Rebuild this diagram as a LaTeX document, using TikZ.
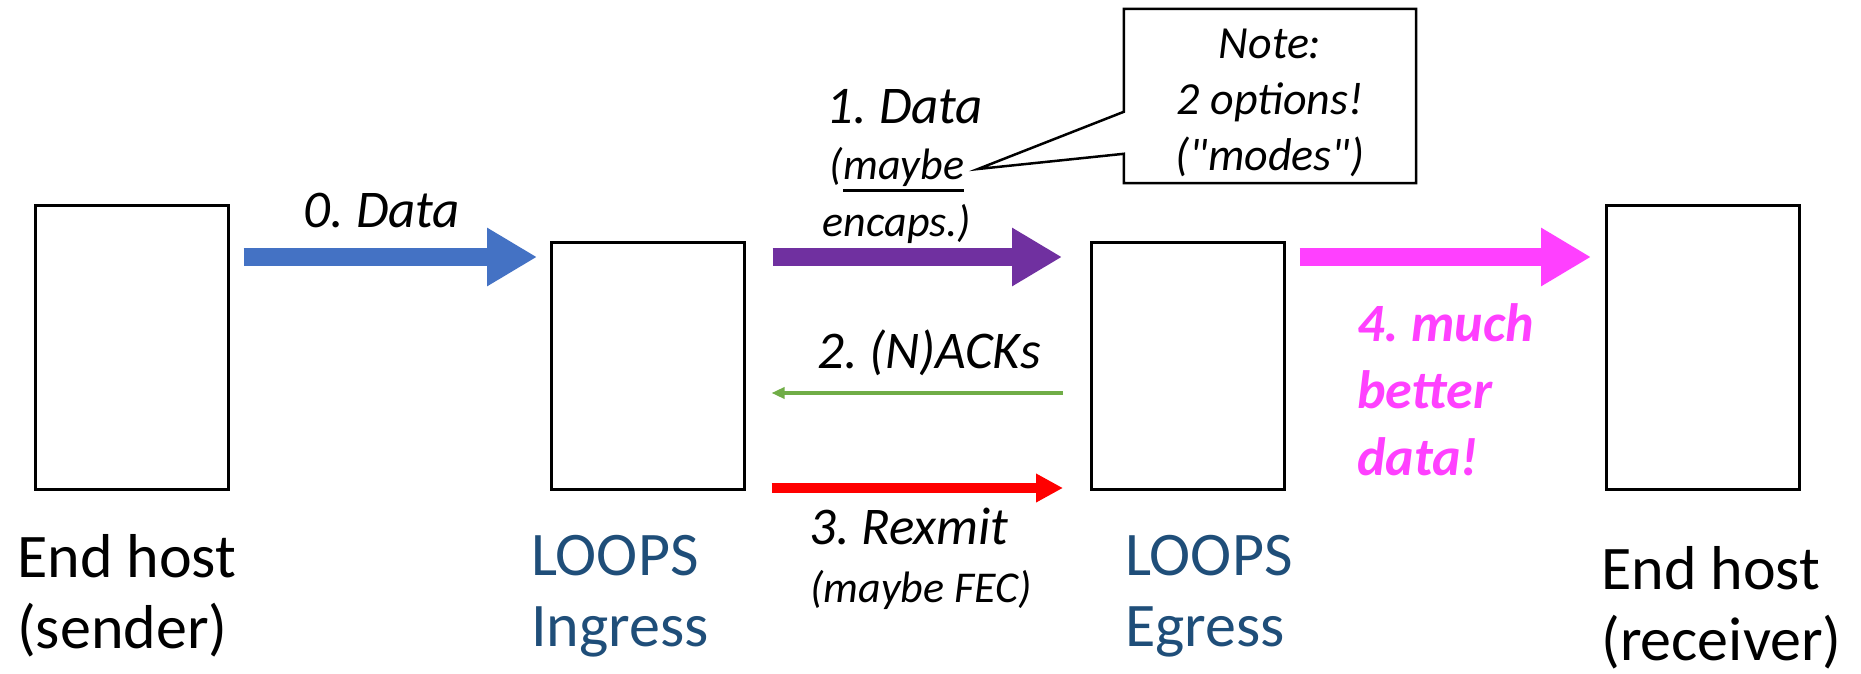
\documentclass[tikz,border=0pt]{standalone}
\usepackage{fontspec}
\setmainfont{Carlito}
\usetikzlibrary{arrows.meta,positioning,calc}
\definecolor{cblue}{HTML}{4472C4}
\definecolor{cpurple}{HTML}{7030A0}
\definecolor{cpink}{HTML}{FF40FF}
\definecolor{cgreen}{HTML}{70AD47}
\definecolor{cred}{HTML}{FF0000}
\definecolor{cloops}{HTML}{1F4E79}
\newcommand{\fs}[2]{\fontsize{#1}{#2}\selectfont}
\newcommand{\ulfat}[1]{\vtop{\hbox{#1}\kern3pt\hrule height 2.5pt}}
\frenchspacing

\begin{document}
\begin{tikzpicture}[x=1pt,y=-1pt,
  hostbox/.style={draw,line width=2.5pt,inner sep=0,anchor=north west,minimum width=193pt},
  fatarr/.style={line width=18pt,-{Triangle[length=50pt,width=55pt]}},
  thinarr/.style={line width=4pt,-{Triangle[length=13pt,width=11pt]}},
  midarr/.style={line width=10pt,-{Triangle[length=27pt,width=27pt]}},
  lbl/.style={inner sep=0,font=\itshape\fs{53}{60}},
  smalllbl/.style={inner sep=0,font=\itshape\fs{44}{57},align=center},
  hostname/.style={inner sep=0,anchor=west,align=left,font=\fs{62}{71}}]
\useasboundingbox (0,0) rectangle (1861,674);
% boxes
\node[hostbox,minimum height=284pt] (snd) at (34,204) {};
\node[hostbox,minimum height=247pt] (ing) at (550,241) {};
\node[hostbox,minimum height=247pt] (egr) at (1090,241) {};
\node[hostbox,minimum height=284pt] (rcv) at (1605,204) {};
% levels
\coordinate (top) at (0,257);
\coordinate (ack) at (0,393);
\coordinate (bot) at (0,488);
% arrows
\draw[fatarr,cblue,shorten <=14pt,shorten >=13pt] (snd.east |- top) -- (ing.west |- top);
\draw[fatarr,cpurple,shorten <=27pt,shorten >=28pt] (ing.east |- top) -- (egr.west |- top);
\draw[fatarr,cpink,shorten <=14pt,shorten >=14pt] (egr.east |- top) -- (rcv.west |- top);
\draw[thinarr,cgreen,shorten <=27pt,shorten >=26pt] (egr.west |- ack) -- (ing.east |- ack);
\draw[midarr,cred,shorten <=26pt,shorten >=27pt] (ing.east |- bot) -- (egr.west |- bot);
% labels
\node[lbl] (l0) at (382,211) {0. Data};
\node[lbl] (l1) at (905,107) {1. Data};
\node[smalllbl] (l1b) at (897,195) {(\ulfat{maybe}\\encaps.)};
\node[lbl] (l2) at (929,353) {2. (N)ACKs};
\node[lbl] (l3) at (909,526) {3. Rexmit};
\node[smalllbl] (l3b) at (921,590) {(maybe FEC)};
\node[inner sep=0,anchor=west,align=left,text=cpink,font=\bfseries\itshape\fs{54}{67}] (l4) at (1357,390) {4. much\\better\\data!};
% note
\node[inner sep=0,minimum width=292pt,minimum height=174pt] (note) at (1270,96) {};
\node[inner sep=0,align=center,font=\itshape\fs{46}{56}] (notetxt) at (1270,103) {Note:\\2 options!\\(\textquotedbl modes\textquotedbl)};
\draw[line width=2.5pt] (note.north west) -- ($(note.north west)+(0,103)$) -- (978,169)
  -- ($(note.north west)+(0,145)$) -- (note.south west) -- (note.south east)
  -- (note.north east) -- cycle;
% names
\node[hostname] (n1) at (17,596) {End host\\(sender)};
\node[hostname,text=cloops] (n2) at (531,596) {LOOPS\\Ingress};
\node[hostname,text=cloops] (n3) at (1125,596) {LOOPS\\Egress};
\node[hostname] (n4) at (1601,608) {End host\\(receiver)};
\end{tikzpicture}
\end{document}
